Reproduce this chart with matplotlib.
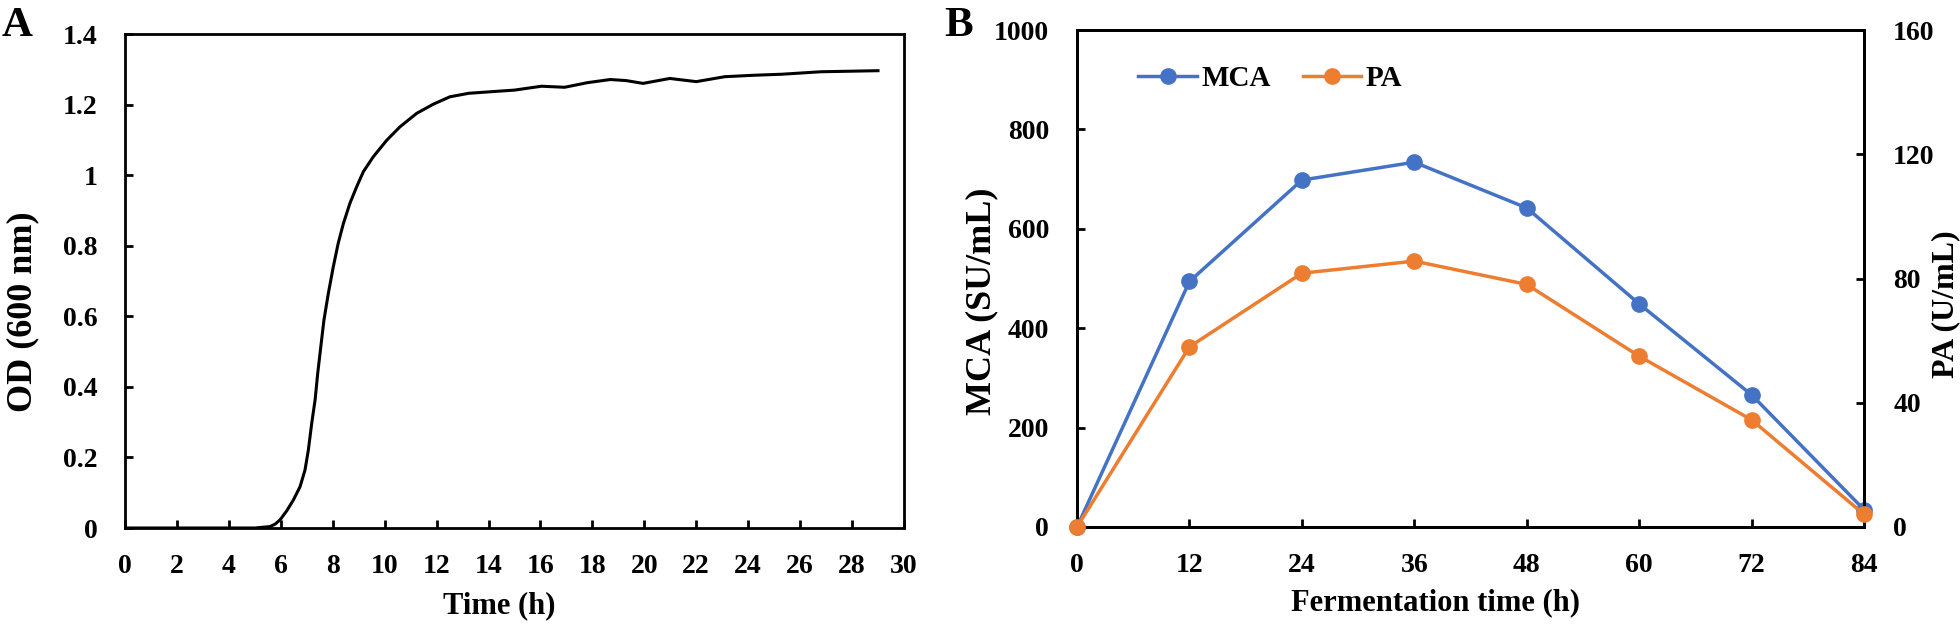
"""
Growth curve (A) and enzyme activity during fermentation (B).
"""

import matplotlib.pyplot as plt

# ============================================================================
# Data
# ============================================================================

# Panel A: growth curve
growth_time = [0, 2, 4, 5.0, 5.58, 5.78, 5.97, 6.23, 6.48, 6.74, 6.93, 7.06,
               7.19, 7.32, 7.42, 7.54, 7.66, 7.83, 8.02, 8.21, 8.41, 8.66,
               8.92, 9.18, 9.56, 10.08, 10.59, 11.23, 11.87, 12.51, 13.24,
               14.4, 15.0, 16.04, 16.93, 17.8, 18.69, 19.3, 19.95, 20.98,
               22.0, 23.1, 24.2, 25.3, 26.8, 29.0]
growth_od = [0, 0, 0, 0, 0.004, 0.011, 0.023, 0.049, 0.079, 0.117, 0.164,
             0.221, 0.297, 0.363, 0.438, 0.514, 0.589, 0.665, 0.740, 0.807,
             0.863, 0.920, 0.967, 1.010, 1.052, 1.099, 1.137, 1.175, 1.201,
             1.222, 1.232, 1.238, 1.241, 1.252, 1.249, 1.262, 1.271, 1.268,
             1.260, 1.274, 1.265, 1.279, 1.283, 1.286, 1.293, 1.296]

# Panel B: activities over fermentation time
ferm_time = [0, 12, 24, 36, 48, 60, 72, 84]
mca = [0, 494, 698, 734, 642, 449, 266, 35]
pa = [0, 58.0, 81.7, 85.6, 78.1, 55.0, 34.5, 4.1]

od_ticks = [0, 0.2, 0.4, 0.6, 0.8, 1.0, 1.2, 1.4]
od_labels = ["0", "0.2", "0.4", "0.6", "0.8", "1", "1.2", "1.4"]

BLUE = "#4472C4"
ORANGE = "#ED7D31"

# ============================================================================
# Global Plot Style
# ============================================================================

plt.rcParams.update(
    {
        "font.family": ["Liberation Serif", "DejaVu Serif"],
        "font.weight": "bold",
        "font.size": 20,
        "axes.linewidth": 2.0,
        "axes.labelweight": "bold",
        "axes.labelsize": 22,
        "xtick.direction": "in",
        "ytick.direction": "in",
        "xtick.major.width": 2.0,
        "ytick.major.width": 2.0,
        "xtick.major.size": 6,
        "ytick.major.size": 6,
        "xtick.major.pad": 19,
        "ytick.major.pad": 20,
    }
)

fig = plt.figure(figsize=(19.6, 6.25), dpi=100)

# ============================================================================
# Panel A
# ============================================================================

ax_a = fig.add_axes([0.0638, 0.1552, 0.3974, 0.7904])
ax_a.plot(growth_time, growth_od, color="black", linewidth=2.2)
ax_a.set_xlim(0, 30)
ax_a.set_ylim(0, 1.4)
ax_a.set_xticks(range(0, 31, 2))
ax_a.set_yticks(od_ticks)
ax_a.set_yticklabels(od_labels)
ax_a.set_xlabel("Time (h)")
ax_a.xaxis.set_label_coords(0.481, -0.127)
ax_a.set_ylabel("OD (600 nm)", fontsize=26)
ax_a.yaxis.set_label_coords(-0.110, 0.437)

# ============================================================================
# Panel B
# ============================================================================

ax_b = fig.add_axes([0.5495, 0.1568, 0.4015, 0.7952])
ax_b.plot(ferm_time, mca, color=BLUE, linewidth=2.5, marker="o",
          markersize=11, label="MCA", clip_on=False, zorder=3)
ax_b.set_xlim(0, 84)
ax_b.set_ylim(0, 1000)
ax_b.set_xticks(ferm_time)
ax_b.set_yticks(range(0, 1001, 200))
ax_b.set_xlabel("Fermentation time (h)")
ax_b.xaxis.set_label_coords(0.456, -0.124)
ax_b.set_ylabel("MCA (SU/mL)", fontsize=26)
ax_b.yaxis.set_label_coords(-0.100, 0.455)

ax_b2 = ax_b.twinx()
ax_b2.plot(ferm_time, pa, color=ORANGE, linewidth=2.5, marker="o",
           markersize=11, label="PA", clip_on=False, zorder=3)
ax_b2.set_ylim(0, 160)
ax_b2.set_yticks(range(0, 161, 40))
ax_b2.tick_params(axis="y", direction="in", pad=21)
ax_b2.set_ylabel("PA (U/mL)", fontsize=23)
ax_b2.yaxis.set_label_coords(1.086, 0.449)

lines = ax_b.get_lines() + ax_b2.get_lines()
ax_b.legend(
    lines,
    [line.get_label() for line in lines],
    loc="center left",
    bbox_to_anchor=(0.078, 0.903),
    ncol=2,
    frameon=False,
    fontsize=21,
    handlelength=2.0,
    handletextpad=0.15,
    columnspacing=1.1,
    borderpad=0,
    borderaxespad=0,
)

# Panel letters
fig.text(0.001, 0.988, "A", fontsize=31, va="top", ha="left")
fig.text(0.482, 0.988, "B", fontsize=31, va="top", ha="left")

fig.savefig("out.png", dpi=100)
plt.close(fig)
